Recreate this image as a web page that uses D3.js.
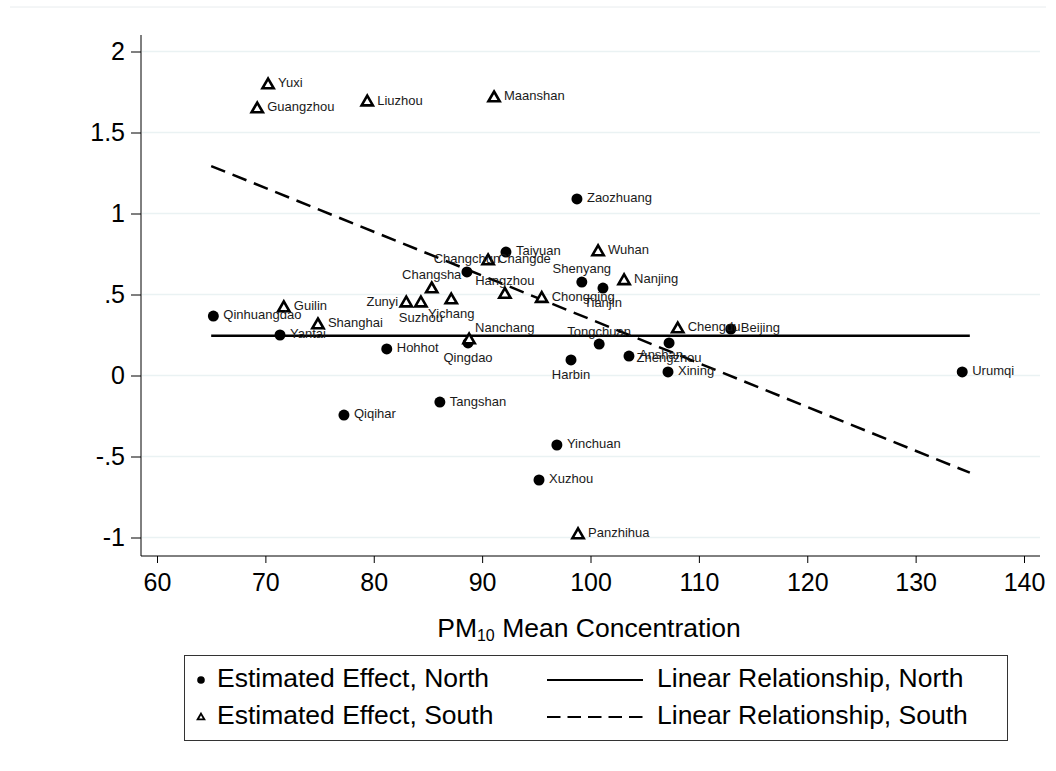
<!DOCTYPE html>
<html>
<head>
<meta charset="utf-8">
<script src="https://cdn.jsdelivr.net/npm/d3@7"></script>
<style>
  body { margin: 0; background: #fff; }
  svg { font-family: "Liberation Sans", Arial, sans-serif; }
</style>
</head>
<body>
<div id="chart"></div>
<script>
// north cities (filled circles)
var northCities = ["Qinhuangdao", "Yantai", "Hohhot", "Qiqihar", "Tangshan", "Qingdao", "Changchun", "Taiyuan",
  "Zaozhuang", "Shenyang", "Tianjin", "Harbin", "Tongchuan", "Anshan", "Zhengzhou", "Xining", "Beijing",
  "Urumqi", "Yinchuan", "Xuzhou"]
var northPM = [65.2, 71.35, 81.2, 77.25, 86.1, 88.7, 88.6, 92.2,
  98.75, 99.2, 101.15, 98.2, 100.8, 103.55, 107.25, 107.15, 112.95,
  134.3, 96.9, 95.25]
var northEffect = [0.367, 0.25, 0.164, -0.244, -0.164, 0.201, 0.639, 0.762,
  1.09, 0.577, 0.54, 0.096, 0.194, 0.12, 0.201, 0.022, 0.287,
  0.022, -0.429, -0.645]

// south cities (hollow triangles)
var southCities = ["Yuxi", "Guangzhou", "Liuzhou", "Maanshan", "Wuhan", "Changde", "Hangzhou", "Chongqing",
  "Nanjing", "Guilin", "Shanghai", "Zunyi", "Suzhou", "Changsha", "Yichang", "Nanchang", "Chengdu", "Panzhihua"]
var southPM = [70.25, 69.25, 79.4, 91.1, 100.7, 90.55, 92.1, 95.5,
  103.1, 71.7, 74.85, 83.0, 84.35, 85.35, 87.15, 88.8, 108.05, 98.85]
var southEffect = [1.799, 1.651, 1.694, 1.719, 0.769, 0.713, 0.506, 0.481,
  0.59, 0.423, 0.318, 0.453, 0.453, 0.54, 0.472, 0.225, 0.293, -0.978]

// fitted lines (end points)
var fitPM = [65, 135]
var northFit = [0.245, 0.245]
var southFit = [1.293, -0.6]

var xTicks = [60, 70, 80, 90, 100, 110, 120, 130, 140]
var yTicks = [-1, -0.5, 0, 0.5, 1, 1.5, 2]
var yTickLabels = ["-1", "-.5", "0", ".5", "1", "1.5", "2"]

// marker label clock positions (default 3 = right)
var labelPos = { Qingdao: 6, Changchun: 12, Changsha: 12, Shenyang: 12, Tianjin: 6, Harbin: 6,
  Tongchuan: 12, Zhengzhou: 6, Hangzhou: 12, Zunyi: 9, Suzhou: 6, Yichang: 6, Nanchang: 1 }

var W = 1056, H = 771

var svg = d3.select("#chart").append("svg")
  .attr("width", W)
  .attr("height", H)

var x = d3.scaleLinear().domain([60, 140]).range([157, 1024])
var y = d3.scaleLinear().domain([-1, 2]).range([537.5, 51.5])

// outer region line
svg.append("line")
  .attr("x1", 10).attr("x2", W - 10)
  .attr("y1", 7).attr("y2", 7)
  .attr("stroke", "#e8ecee").attr("stroke-width", 1)

// grid
svg.append("g").selectAll("line")
  .data(yTicks)
  .enter().append("line")
    .attr("x1", 142).attr("x2", 1040)
    .attr("y1", function(d) { return y(d) }).attr("y2", function(d) { return y(d) })
    .attr("stroke", "#eaf2f3").attr("stroke-width", 1.5)

// axes
var yAxis = svg.append("g")
  .attr("transform", "translate(141,0)")
  .call(d3.axisLeft(y).tickValues(yTicks).tickSize(10).tickPadding(6)
    .tickFormat(function(d, i) { return yTickLabels[i] }))
yAxis.select(".domain").attr("d", "M0,35V556")

var xAxis = svg.append("g")
  .attr("transform", "translate(0,556)")
  .call(d3.axisBottom(x).tickValues(xTicks).tickSize(7).tickPadding(10))
xAxis.select(".domain").attr("d", "M141,0H1040")

svg.selectAll(".tick text")
  .attr("font-family", "Liberation Sans, Arial, sans-serif")
  .attr("font-size", 25)
  .attr("fill", "#000")
svg.selectAll(".tick line").attr("stroke", "#000")
svg.selectAll(".domain").attr("stroke", "#000")

// axis title
var title = svg.append("text")
  .attr("x", 589).attr("y", 637)
  .attr("text-anchor", "middle")
  .attr("font-size", 26.5)
title.append("tspan").text("PM")
title.append("tspan").attr("font-size", 16).attr("dy", 4).text("10")
title.append("tspan").attr("dy", -4).text(" Mean Concentration")

// fitted lines
var line = d3.line()
  .x(function(d) { return x(d[0]) })
  .y(function(d) { return y(d[1]) })

svg.append("path")
  .datum(d3.zip(fitPM, northFit))
  .attr("d", line)
  .attr("fill", "none").attr("stroke", "#000").attr("stroke-width", 2.5)

svg.append("path")
  .datum(d3.zip(fitPM, southFit))
  .attr("d", line)
  .attr("fill", "none").attr("stroke", "#000").attr("stroke-width", 2.5)
  .attr("stroke-dasharray", "15,8")

var north = northCities.map(function(c, i) { return { name: c, x: northPM[i], y: northEffect[i] } })
var south = southCities.map(function(c, i) { return { name: c, x: southPM[i], y: southEffect[i] } })

var tri = d3.symbol().type(d3.symbolTriangle).size(55)

svg.append("g").selectAll("circle")
  .data(north)
  .enter().append("circle")
    .attr("cx", function(d) { return x(d.x) })
    .attr("cy", function(d) { return y(d.y) })
    .attr("r", 5.5)
    .attr("fill", "#000")

svg.append("g").selectAll("path")
  .data(south)
  .enter().append("path")
    .attr("d", tri)
    .attr("transform", function(d) { return "translate(" + x(d.x) + "," + (y(d.y) + 1) + ")" })
    .attr("fill", "#fff")
    .attr("stroke", "#000")
    .attr("stroke-width", 2.6)
    .attr("stroke-linejoin", "miter")

// marker labels
function placeLabel(sel) {
  sel.attr("x", function(d) {
      var p = labelPos[d.name] || 3
      if (p == 9) return x(d.x) - 8
      if (p == 1) return x(d.x) + 6
      if (p == 12 || p == 6) return x(d.x)
      return x(d.x) + 10
    })
    .attr("y", function(d) {
      var p = labelPos[d.name] || 3
      if (p == 12) return y(d.y) - 12
      if (p == 6) return y(d.y) + 16
      if (p == 1) return y(d.y) - 10
      return y(d.y)
    })
    .attr("text-anchor", function(d) {
      var p = labelPos[d.name] || 3
      if (p == 9) return "end"
      if (p == 12 || p == 6) return "middle"
      return "start"
    })
    .attr("dominant-baseline", "middle")
    .attr("font-size", 13)
    .attr("fill", "#1a1a1a")
    .text(function(d) { return d.name })
}

svg.append("g").selectAll("text").data(north).enter().append("text").call(placeLabel)
svg.append("g").selectAll("text").data(south).enter().append("text").call(placeLabel)

// legend
var lg = svg.append("g")
lg.append("rect")
  .attr("x", 184.5).attr("y", 655.5).attr("width", 823).attr("height", 85)
  .attr("fill", "#fff").attr("stroke", "#333").attr("stroke-width", 1)

var legendItems = [
  { label: "Estimated Effect, North", kind: "circle", col: 0, row: 0 },
  { label: "Estimated Effect, South", kind: "tri", col: 0, row: 1 },
  { label: "Linear Relationship, North", kind: "solid", col: 1, row: 0 },
  { label: "Linear Relationship, South", kind: "dash", col: 1, row: 1 }
]
legendItems.forEach(function(d) {
  var cy = 680 + d.row * 37
  if (d.kind == "circle") {
    lg.append("circle").attr("cx", 201).attr("cy", cy).attr("r", 3.8).attr("fill", "#000")
  } else if (d.kind == "tri") {
    lg.append("path").attr("d", d3.symbol().type(d3.symbolTriangle).size(20))
      .attr("transform", "translate(201," + (cy + 0.5) + ")")
      .attr("fill", "#fff").attr("stroke", "#000").attr("stroke-width", 1.8)
  } else {
    lg.append("line").attr("x1", 547).attr("x2", 643).attr("y1", cy).attr("y2", cy)
      .attr("stroke", "#000").attr("stroke-width", 2)
      .attr("stroke-dasharray", d.kind == "dash" ? "13.5,7" : null)
  }
  lg.append("text")
    .attr("x", d.col == 0 ? 217 : 657)
    .attr("y", cy)
    .attr("dominant-baseline", "middle")
    .attr("font-size", 26.5)
    .attr("fill", "#000")
    .text(d.label)
})
</script>
</body>
</html>
